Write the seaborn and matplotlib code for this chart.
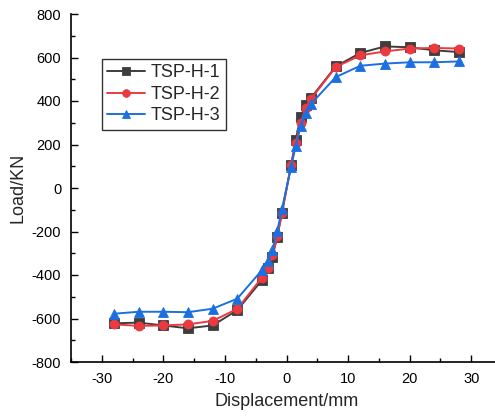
import matplotlib
matplotlib.use("Agg")
import matplotlib.pyplot as plt
import seaborn as sns
import pandas as pd
from matplotlib.ticker import MultipleLocator

# ---- data ----
displacement = [-28, -24, -20, -16, -12, -8, -4, -3, -2.3, -1.5, -0.75,
                0.75, 1.5, 2.3, 3.1, 4, 8, 12, 16, 20, 24, 28]
load_h1 = [-622, -619, -632, -645, -632, -562, -424, -370, -317, -224, -117,
           106, 221, 328, 381, 415, 559, 621, 651, 647, 633, 625]
load_h2 = [-627, -634, -632, -627, -611, -556, -412, -366, -309, -221, -114,
           106, 206, 301, 367, 410, 556, 610, 628, 641, 644, 641]
load_h3 = [-578, -569, -569, -571, -555, -509, -378, -337, -283, -197, -98,
           98, 194, 283, 347, 387, 510, 562, 572, 578, 578, 582]
series_names = ["TSP-H-1", "TSP-H-2", "TSP-H-3"]
colors = ["#3d3d3d", "#ea3a3f", "#1c6fe0"]
markers = ["s", "o", "^"]

frames = []
for name, vals in zip(series_names, [load_h1, load_h2, load_h3]):
    frames.append(pd.DataFrame({"Displacement": displacement, "Load": vals, "Specimen": name}))
df = pd.concat(frames, ignore_index=True)

sns.set_theme(style="ticks")
plt.rcParams["font.family"] = ["Liberation Sans", "DejaVu Sans"]
plt.rcParams["axes.unicode_minus"] = False

fig = plt.figure(figsize=(4.95, 4.17), dpi=100)
ax = fig.add_axes([71/495, 55/417, 431/495, 348/417])

sns.lineplot(data=df, x="Displacement", y="Load", hue="Specimen", style="Specimen",
             palette=colors, markers=markers, dashes=False, sort=False,
             markersize=6.5, markeredgewidth=0.6, linewidth=1.4, ax=ax,
             legend=True)
for line, c in zip(ax.lines, colors):
    line.set_markeredgecolor(c)

ax.set_xlim(-35, 35)
ax.set_ylim(-800, 800)
ax.xaxis.set_major_locator(MultipleLocator(10))
ax.xaxis.set_minor_locator(MultipleLocator(5))
ax.yaxis.set_major_locator(MultipleLocator(200))
ax.yaxis.set_minor_locator(MultipleLocator(100))
ax.tick_params(which="major", direction="in", length=5, width=1, labelsize=10.5,
               color="black", labelcolor="black", pad=7)
ax.tick_params(which="minor", direction="in", length=3, width=1, color="black")
for s in ["top", "right"]:
    ax.spines[s].set_visible(False)
for s in ["left", "bottom"]:
    ax.spines[s].set_color("black")
    ax.spines[s].set_linewidth(1.2)

ax.set_xlabel("Displacement/mm", fontsize=13, labelpad=5)
ax.set_ylabel("Load/KN", fontsize=13, labelpad=4)

leg = ax.legend(loc="upper left", bbox_to_anchor=(0.072, 0.871), borderaxespad=0,
                fontsize=13, frameon=True, fancybox=False, handlelength=2.1,
                handletextpad=0.3, borderpad=0.3, labelspacing=0.25, markerscale=0.85)
leg.get_frame().set_edgecolor("black")
leg.get_frame().set_linewidth(1.0)
for h, c in zip(leg.legend_handles, colors):
    h.set_markeredgecolor(c)

fig.savefig("out.png", dpi=100)
